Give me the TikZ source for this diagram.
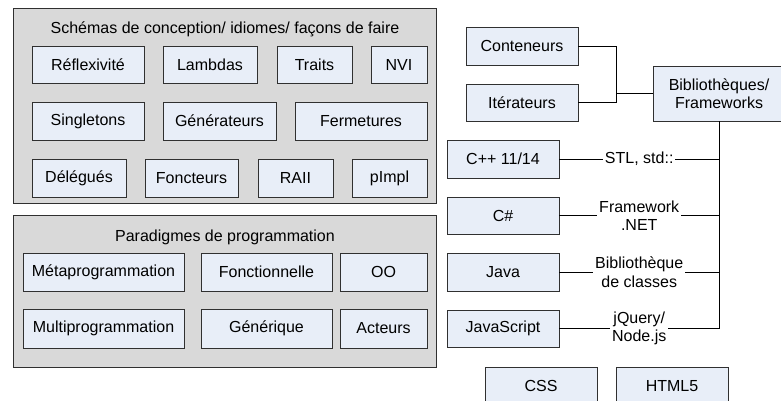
\documentclass[tikz,border=0pt]{standalone}
\usepackage{fontspec}
\setmainfont{Liberation Sans}
\definecolor{panelgray}{HTML}{D9D9D9}
\definecolor{boxblue}{HTML}{E8EEF8}
\definecolor{edge}{HTML}{303030}
\begin{document}
\begin{tikzpicture}[x=1pt,y=-1pt,
  font=\fontsize{16}{18.5}\selectfont,
  panel/.style={draw=edge, line width=0.9pt, fill=panelgray},
  boxn/.style={draw=edge, line width=0.9pt, fill=boxblue, inner sep=0pt, align=center},
  sz/.style 2 args={minimum width=#1pt, minimum height=#2pt},
  conn/.style={draw=black, line width=0.9pt},
  lbl/.style={fill=white, inner xsep=2pt, inner ysep=0pt, align=center}]
\clip (0,0) rectangle (781,400);
\fill[white] (0,0) rectangle (781,400);
% panels
\draw[panel] (13,8) rectangle (436,203);
\draw[panel] (13,215) rectangle (436,367);
\node (t1) at (225,29) {Schémas de conception/ idiomes/ façons de faire};
\node (t2) at (225,237) {Paradigmes de programmation};
% panel 1
\node[boxn, sz={112}{37}] (refl) at (88,64.5) {Réflexivité};
\node[boxn, sz={94}{37}] (lamb) at (210,64.5) {Lambdas};
\node[boxn, sz={75}{37}] (trait) at (314.5,64.5) {Traits};
\node[boxn, sz={56}{37}] (nvi) at (399,64.5) {NVI};
\node[boxn, sz={112}{38}] (sing) at (88,121) {Singletons};
\node[boxn, sz={113}{38}] (gen) at (219.5,121) {Générateurs};
\node[boxn, sz={132}{38}] (ferm) at (361,121) {Fermetures};
\node[boxn, sz={94}{38}] (deleg) at (79,178) {Délégués};
\node[boxn, sz={93}{38}] (fonc) at (191.5,178) {Foncteurs};
\node[boxn, sz={75}{38}] (raii) at (295.5,178) {RAII};
\node[boxn, sz={75}{38}] (pimpl) at (389.5,178) {pImpl};
% panel 2
\node[boxn, sz={161}{38}] (meta) at (103.5,272) {Métaprogrammation};
\node[boxn, sz={131}{38}] (fonctl) at (266.5,272) {Fonctionnelle};
\node[boxn, sz={87}{38}] (oo) at (383.5,272) {OO};
\node[boxn, sz={161}{39}] (multi) at (103.5,328.5) {Multiprogrammation};
\node[boxn, sz={131}{39}] (gener) at (266.5,328.5) {Générique};
\node[boxn, sz={87}{39}] (act) at (383.5,328.5) {Acteurs};
% right side
\node[boxn, sz={112}{38}] (cont) at (522,46) {Conteneurs};
\node[boxn, sz={112}{37}] (iter) at (522,102.5) {Itérateurs};
\node[boxn, sz={132}{55}] (bib) at (719,93.5) {Bibliothèques/\\Frameworks};
\node[boxn, sz={112}{38}] (cpp) at (503,159) {C++ 11/14};
\node[boxn, sz={112}{37}] (cs) at (503,215.5) {C\#};
\node[boxn, sz={112}{38}] (java) at (503,272) {Java};
\node[boxn, sz={112}{37}] (js) at (503,328.5) {JavaScript};
\node[boxn, sz={112}{38}] (css) at (541,386) {CSS};
\node[boxn, sz={112}{38}] (html) at (672,386) {HTML5};
% connectors
\draw[conn] (cont.east) -- ++(38,0) |- (bib.west);
\draw[conn] (iter.east) -- ++(38,0) |- (bib.west);
\coordinate (trunk) at (bib.south |- js.east);
\draw[conn] (bib.south) -- (trunk);
\draw[conn] (cpp.east) -- (cpp.east -| bib.south) node[lbl, midway] {STL, std::};
\draw[conn] (cs.east) -- (cs.east -| bib.south) node[lbl, midway] {Framework\\.NET};
\draw[conn] (java.east) -- (java.east -| bib.south) node[lbl, midway] {Bibliothèque\\de classes};
\draw[conn] (js.east) -- (trunk) node[lbl, midway] {jQuery/\\Node.js};
\end{tikzpicture}
\end{document}
